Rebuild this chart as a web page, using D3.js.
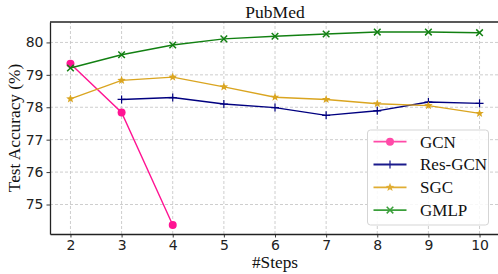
<!DOCTYPE html>
<html>
<head>
<meta charset="utf-8">
<script src="https://cdnjs.cloudflare.com/ajax/libs/d3/7.8.5/d3.min.js"></script>
<style>
  body { margin: 0; background: #fff; }
  svg { display: block; }
</style>
</head>
<body>
<div id="graph"></div>
<script>
var steps = [2, 3, 4, 5, 6, 7, 8, 9, 10];
var gcn = [79.34, 77.84, 74.37];
var resGcn = [null, 78.24, 78.30, 78.10, 77.99, 77.75, 77.89, 78.16, 78.12];
var sgc = [78.26, 78.83, 78.93, 78.63, 78.31, 78.24, 78.11, 78.05, 77.81];
var gmlp = [79.21, 79.62, 79.92, 80.11, 80.19, 80.26, 80.32, 80.32, 80.30];
var yTicks = [75, 76, 77, 78, 79, 80];

var series = [
  {name: "GCN", values: gcn, color: "#ff1493", legendColor: "#ff4aa8", marker: "circle"},
  {name: "Res-GCN", values: resGcn, color: "#000080", legendColor: "#1a1a8c", marker: "plus"},
  {name: "SGC", values: sgc, color: "#daa520", legendColor: "#e0ad33", marker: "star"},
  {name: "GMLP", values: gmlp, color: "#128012", legendColor: "#3a9f3a", marker: "x"}
];

var W = 498, H = 274;
var margin = {top: 22, right: 0, bottom: 40, left: 50};
var serif = "'Liberation Serif', 'Times New Roman', serif";

var svg = d3.select("#graph")
  .append("svg")
    .attr("width", W)
    .attr("height", H);

var x = d3.scaleLinear()
    .domain([1.6, 10.4])
    .range([margin.left, 500]);

var y = d3.scaleLinear()
    .domain([74.09, 80.63])
    .range([H - margin.bottom, margin.top]);

// grid
var grid = svg.append("g").attr("stroke", "#c8c8c8").attr("stroke-dasharray", "3,2").attr("stroke-width", 0.9);
steps.forEach(function(s) {
  grid.append("line").attr("x1", x(s)).attr("x2", x(s)).attr("y1", y.range()[0]).attr("y2", margin.top);
});
yTicks.forEach(function(t) {
  grid.append("line").attr("x1", margin.left).attr("x2", W).attr("y1", y(t)).attr("y2", y(t));
});

// axes
var xAxis = svg.append("g")
  .attr("transform", "translate(0," + y.range()[0] + ")")
  .call(d3.axisBottom(x).tickValues(steps).tickFormat(d3.format("d")).tickSize(3.5).tickPadding(2.5).tickSizeOuter(0));
var yAxis = svg.append("g")
  .attr("transform", "translate(" + margin.left + ",0)")
  .call(d3.axisLeft(y).tickValues(yTicks).tickFormat(d3.format("d")).tickSize(3.5).tickPadding(3).tickSizeOuter(0));

[xAxis, yAxis].forEach(function(a) {
  a.select(".domain").attr("stroke", "#222").attr("stroke-width", 1.3);
  a.selectAll(".tick line").attr("stroke", "#222").attr("stroke-width", 0.9);
  a.selectAll(".tick text")
    .attr("fill", "#222")
    .style("font-family", "'DejaVu Sans', sans-serif")
    .style("font-size", "14px");
});

// top border
svg.append("line")
  .attr("x1", margin.left).attr("x2", W)
  .attr("y1", margin.top).attr("y2", margin.top)
  .attr("stroke", "#222").attr("stroke-width", 1.3);

function drawMarker(g, type, cx, cy, color) {
  if (type === "circle") {
    g.append("circle").attr("cx", cx).attr("cy", cy).attr("r", 4).attr("fill", color);
  } else if (type === "plus") {
    g.append("path").attr("d", "M" + (cx - 4) + "," + cy + "h8M" + cx + "," + (cy - 4) + "v8")
      .attr("stroke", color).attr("stroke-width", 1.2);
  } else if (type === "star") {
    var pts = [];
    for (var i = 0; i < 10; i++) {
      var r = i % 2 === 0 ? 4.5 : 1.9;
      var a = -Math.PI / 2 + i * Math.PI / 5;
      pts.push([cx + r * Math.cos(a), cy + r * Math.sin(a)]);
    }
    g.append("path").attr("d", "M" + pts.join("L") + "Z").attr("fill", color);
  } else if (type === "x") {
    g.append("path").attr("d", "M" + (cx - 3.3) + "," + (cy - 3.3) + "l6.6,6.6M" + (cx - 3.3) + "," + (cy + 3.3) + "l6.6,-6.6")
      .attr("stroke", color).attr("stroke-width", 1.5);
  }
}

// lines
var line = d3.line()
  .defined(function(d) { return d[1] != null; })
  .x(function(d) { return x(d[0]); })
  .y(function(d) { return y(d[1]); });

series.forEach(function(s) {
  var pts = s.values.map(function(v, i) { return [steps[i], v]; });
  var g = svg.append("g");
  g.append("path")
    .datum(pts)
    .attr("d", line)
    .attr("fill", "none")
    .attr("stroke", s.color)
    .attr("stroke-width", 1.4);
  pts.forEach(function(p) {
    if (p[1] != null) drawMarker(g, s.marker, x(p[0]), y(p[1]), s.color);
  });
});

// legend
var lg = svg.append("g").attr("transform", "translate(367.5,130)");
lg.append("rect")
  .attr("width", 121).attr("height", 95).attr("rx", 3)
  .attr("fill", "#fff").attr("fill-opacity", 0.85)
  .attr("stroke", "#d5d5d5").attr("stroke-width", 1);
series.forEach(function(s, i) {
  var cy = 11.7 + i * 22.8;
  lg.append("line").attr("x1", 6).attr("x2", 39).attr("y1", cy).attr("y2", cy)
    .attr("stroke", s.legendColor).attr("stroke-width", 1.8);
  drawMarker(lg, s.marker, 22.5, cy, s.legendColor);
  lg.append("text")
    .attr("x", 52.5).attr("y", cy + 5.8)
    .style("font-family", serif)
    .style("font-size", "17px")
    .attr("fill", "#111")
    .text(s.name);
});

// titles
svg.append("text")
  .attr("x", 275).attr("y", 17.5)
  .attr("text-anchor", "middle")
  .style("font-family", serif)
  .style("font-size", "17.5px")
  .attr("fill", "#111")
  .text("PubMed");

svg.append("text")
  .attr("x", 275).attr("y", 268)
  .attr("text-anchor", "middle")
  .style("font-family", serif)
  .style("font-size", "17.3px")
  .attr("fill", "#111")
  .text("#Steps");

svg.append("text")
  .attr("transform", "translate(19.5,128) rotate(-90)")
  .attr("text-anchor", "middle")
  .style("font-family", serif)
  .style("font-size", "17.3px")
  .attr("fill", "#111")
  .text("Test Accuracy (%)");
</script>
</body>
</html>
